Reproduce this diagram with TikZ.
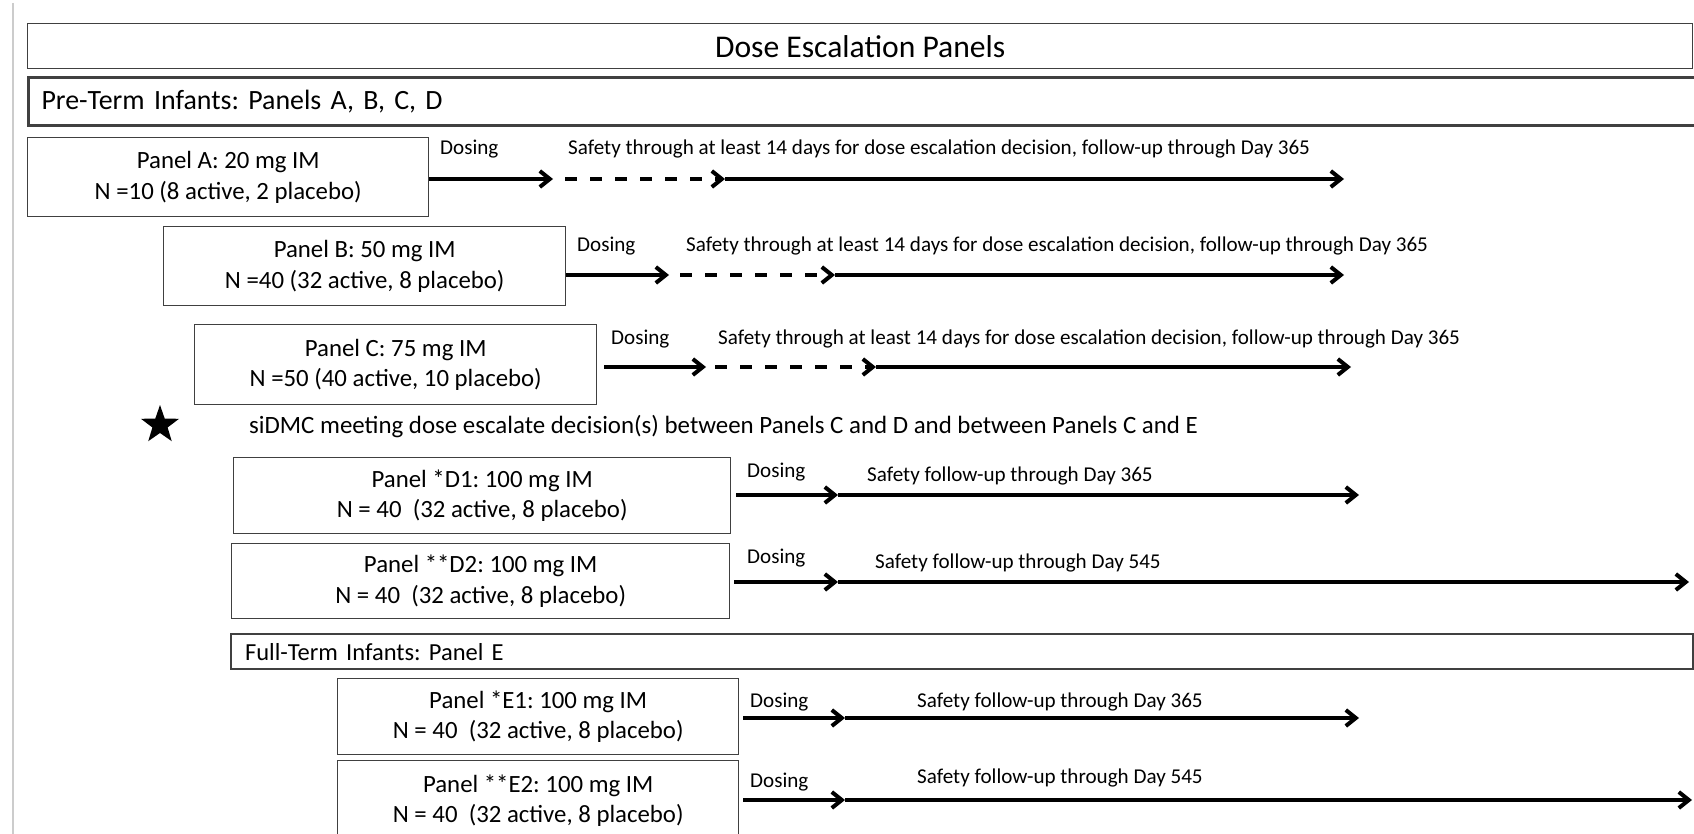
\documentclass[tikz,border=0pt]{standalone}
\usepackage{fontspec}
\setmainfont{Carlito}
\frenchspacing
\usetikzlibrary{arrows.meta,shapes.geometric}
\tikzstyle{box}=[draw=black!75, line width=1.4pt, inner sep=0pt, anchor=north west]
\tikzstyle{panel}=[box, align=center, font=\fontsize{24.8}{30.5}\selectfont]
\tikzstyle{band}=[box, align=left, inner xsep=13pt, font=\fontsize{27.9}{32}\selectfont]
\tikzstyle{lbl}=[anchor=west, inner sep=0pt, font=\fontsize{21.1}{25}\selectfont]
\tikzstyle{flow}=[line width=4pt, -{Straight Barb[length=10pt,width=16pt]}]
\tikzstyle{wait}=[flow, dash pattern=on 12pt off 13pt]

\begin{document}
\begin{tikzpicture}[x=1pt,y=-1pt]
\useasboundingbox (0,0) rectangle (1694,834);
\clip (0,0) rectangle (1694,834);
\draw [black!20, line width=2pt] (13,3) -- (13,834);

% headers
\node (title) [box, minimum width=1665pt, minimum height=45pt, font=\fontsize{31.6}{36}\selectfont] at (27,23) {Dose Escalation Panels};
\node (preterm) [band, line width=3pt, text width=1674pt, minimum height=48pt] at (27,76) {Pre-Term Infants: Panels A, B, C, D};
\node (fullterm) [band, line width=2.2pt, inner xsep=14pt, text width=1434pt, minimum height=35pt, font=\fontsize{24.5}{28}\selectfont] at (230,633) {Full-Term Infants: Panel E};

% panels
\node (pA) [panel, minimum width=401pt, minimum height=79pt] at (27,137) {Panel A: 20 mg IM\\N =10 (8 active, 2 placebo)};
\node (pB) [panel, minimum width=402pt, minimum height=79pt] at (163,226) {Panel B: 50 mg IM\\N =40 (32 active, 8 placebo)};
\node (pC) [panel, minimum width=402pt, minimum height=80pt] at (194,324) {Panel C: 75 mg IM\\N =50 (40 active, 10 placebo)};
\node (pD1) [panel, minimum width=497pt, minimum height=76pt] at (233,457) {Panel *D1: 100 mg IM\\N = 40~ (32 active, 8 placebo)};
\node (pD2) [panel, minimum width=498pt, minimum height=75pt] at (231,543) {Panel **D2: 100 mg IM\\N = 40~ (32 active, 8 placebo)};
\node (pE1) [panel, minimum width=401pt, minimum height=76pt] at (337,678) {Panel *E1: 100 mg IM\\N = 40~ (32 active, 8 placebo)};
\node (pE2) [panel, minimum width=401pt, minimum height=80pt] at (337,760) {Panel **E2: 100 mg IM\\N = 40~ (32 active, 8 placebo)};

% siDMC
\node (star) [star, star points=5, star point ratio=2.5, fill=black, minimum size=40pt, inner sep=0pt] at (160,425) {};
\node (sidmc) [anchor=west, inner sep=0pt, font=\fontsize{24.9}{28}\selectfont] at (249,427) {siDMC meeting dose escalate decision(s) between Panels C and D and between Panels C and E};

% labels
\node (dosA) [lbl] at (440,149) {Dosing};
\node (dosB) [lbl] at (577,246) {Dosing};
\node (dosC) [lbl] at (611,339) {Dosing};
\node (dosD1) [lbl] at (747,472) {Dosing};
\node (dosD2) [lbl] at (747,558) {Dosing};
\node (dosE1) [lbl] at (750,702) {Dosing};
\node (dosE2) [lbl] at (750,782) {Dosing};
\node (safeA) [lbl] at (568,149) {Safety through at least 14 days for dose escalation decision, follow-up through Day 365};
\node (safeB) [lbl] at (686,246) {Safety through at least 14 days for dose escalation decision, follow-up through Day 365};
\node (safeC) [lbl] at (718,339) {Safety through at least 14 days for dose escalation decision, follow-up through Day 365};
\node (safeD1) [lbl] at (867,476) {Safety follow-up through Day 365};
\node (safeD2) [lbl] at (875,563) {Safety follow-up through Day 545};
\node (safeE1) [lbl] at (917,702) {Safety follow-up through Day 365};
\node (safeE2) [lbl] at (917,778) {Safety follow-up through Day 545};

% timelines
\coordinate (a1) at (553,179); \coordinate (a2) at (725,179); \coordinate (a3) at (1344,179);
\coordinate (b1) at (669,275); \coordinate (b2) at (835,275); \coordinate (b3) at (1344,275);
\coordinate (c1) at (706,367); \coordinate (c2) at (876,367); \coordinate (c3) at (1351,367);
\coordinate (d1) at (838,495); \coordinate (d3) at (1359,495);
\coordinate (e1) at (838,582); \coordinate (e3) at (1689,582);
\coordinate (f1) at (845,718); \coordinate (f3) at (1359,718);
\coordinate (g1) at (845,800); \coordinate (g3) at (1692,800);

\draw [flow] (pA.east |- a1) -- (a1);
\draw [wait] ([xshift=12pt]a1) -- (a2);
\draw [flow] (a2) -- (a3);
\draw [flow] (pB.east |- b1) -- (b1);
\draw [wait] ([xshift=11pt]b1) -- (b2);
\draw [flow] (b2) -- (b3);
\draw [flow] ([xshift=7pt]pC.east |- c1) -- (c1);
\draw [wait] ([xshift=9pt]c1) -- (c2);
\draw [flow] (c2) -- (c3);
\draw [flow] ([xshift=5pt]pD1.east |- d1) -- (d1);
\draw [flow] (d1) -- (d3);
\draw [flow] ([xshift=4pt]pD2.east |- e1) -- (e1);
\draw [flow] (e1) -- (e3);
\draw [flow] ([xshift=4pt]pE1.east |- f1) -- (f1);
\draw [flow] (f1) -- (f3);
\draw [flow] ([xshift=4pt]pE2.east |- g1) -- (g1);
\draw [flow] (g1) -- (g3);
\end{tikzpicture}
\end{document}
